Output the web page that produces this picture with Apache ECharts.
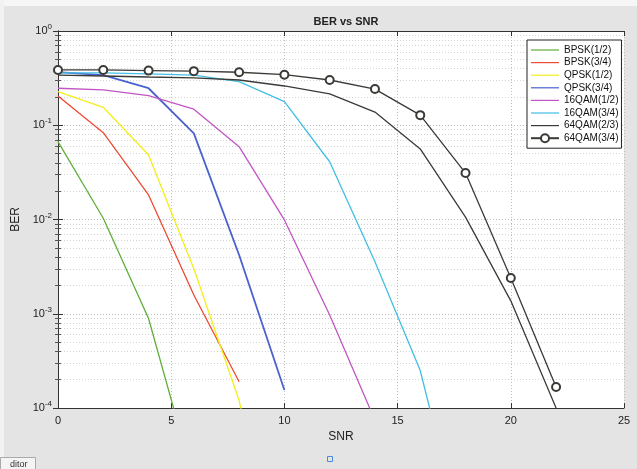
<!DOCTYPE html>
<html>
<head>
<meta charset="utf-8">
<script src="https://cdn.jsdelivr.net/npm/echarts@6/dist/echarts.min.js"></script>
<style>
  html, body { margin: 0; padding: 0; background: #e4e4e4; }
  #chart { width: 637px; height: 469px; }
</style>
</head>
<body>
<div id="chart"></div>
<script>
// SNR points (dB), every 2 dB
const snr = [0, 2, 4, 6, 8, 10, 12, 14, 16, 18, 20, 22]

// BER per scheme (index i pairs with snr[i])
const bpsk12 = [0.067, 0.0103, 8.9e-4, 1.7e-5]
const bpsk34 = [0.204, 0.0834, 0.0182, 0.00158, 1.9e-4]
const qpsk12 = [0.227, 0.155, 0.0483, 0.0030, 1.2e-4, 1e-6]
const qpsk34 = [0.366, 0.341, 0.247, 0.082, 0.0042, 1.55e-4]
const qam16_12 = [0.247, 0.237, 0.206, 0.148, 0.0593, 0.0099, 9.7e-4, 7.4e-5]
const qam16_34 = [0.36, 0.36, 0.35, 0.34, 0.29, 0.178, 0.041, 0.00356, 2.5e-4, 3e-6]
const qam64_23 = [0.341, 0.333, 0.325, 0.318, 0.302, 0.261, 0.215, 0.138, 0.056, 0.0106, 0.00137, 1.0e-4]
const qam64_34 = [0.386, 0.386, 0.380, 0.375, 0.365, 0.344, 0.302, 0.242, 0.128, 0.0311, 0.0024, 1.67e-4]

const legendNames = ['BPSK(1/2)', 'BPSK(3/4)', 'QPSK(1/2)', 'QPSK(3/4)', '16QAM(1/2)', '16QAM(3/4)', '64QAM(2/3)', '64QAM(3/4)']

const toPairs = (vals) => vals.map((v, i) => [snr[i], v])

const font = 'Liberation Sans, Arial, sans-serif'
const lineIcon = 'path://M0,0 L30,0 L30,1.3 L0,1.3 Z'

const lineSeries = (name, vals, color, extra = {}) => ({
  name,
  type: 'line',
  data: toPairs(vals),
  symbol: 'none',
  lineStyle: { width: 1.3, color },
  itemStyle: { color },
  clip: true,
  animation: false,
  ...extra,
})

const chart = echarts.init(document.getElementById('chart'))

chart.setOption({
  backgroundColor: '#e4e4e4',
  animation: false,
  textStyle: { fontFamily: font },
  title: {
    text: 'BER vs SNR',
    left: 341,
    textAlign: 'center',
    top: 11,
    textStyle: { fontSize: 11, fontWeight: 'bold', color: '#222', fontFamily: font },
  },
  grid: {
    left: 58,
    right: 13,
    top: 31,
    bottom: 61,
    show: true,
    backgroundColor: '#ffffff',
    borderWidth: 0,
  },
  legend: {
    orient: 'vertical',
    left: 527,
    top: 40,
    padding: [5, 3, 5, 3],
    itemWidth: 28,
    itemHeight: 10,
    itemGap: 2.6,
    backgroundColor: '#ffffff',
    borderColor: '#222',
    borderWidth: 1,
    borderRadius: 0,
    textStyle: { fontSize: 10, color: '#111', fontFamily: font },
    data: legendNames.map(n => n === '64QAM(3/4)' ? { name: n } : { name: n, icon: lineIcon }),
  },
  xAxis: [
    {
      type: 'value',
      min: 0,
      max: 25,
      interval: 5,
      name: 'SNR',
      nameLocation: 'middle',
      nameGap: 22,
      nameTextStyle: { fontSize: 12, color: '#222', fontFamily: font },
      axisLine: { show: true, onZero: false, lineStyle: { color: '#333', width: 1 } },
      axisTick: { show: true, inside: true, length: 5, lineStyle: { color: '#333' } },
      axisLabel: { fontSize: 11, color: '#222', margin: 7, fontFamily: font },
      splitLine: { show: true, lineStyle: { color: '#bdbdbd', type: [1, 2], width: 1 } },
    },
    {
      type: 'value',
      position: 'top',
      min: 0,
      max: 25,
      interval: 5,
      axisLine: { show: true, onZero: false, lineStyle: { color: '#333', width: 1 } },
      axisTick: { show: true, inside: true, length: 5, lineStyle: { color: '#333' } },
      axisLabel: { show: false },
      splitLine: { show: false },
    },
  ],
  yAxis: [
    {
      type: 'log',
      logBase: 10,
      min: 1e-4,
      max: 1,
      name: 'BER',
      nameLocation: 'middle',
      nameGap: 29,
      nameTextStyle: { fontSize: 12, color: '#222', fontFamily: font },
      axisLine: { show: true, lineStyle: { color: '#333', width: 1 } },
      axisTick: { show: true, inside: true, length: 5, lineStyle: { color: '#333' } },
      minorTick: { show: true, splitNumber: 9, length: 3, lineStyle: { color: '#555' } },
      minorSplitLine: { show: true, lineStyle: { color: '#d4d4d4', type: [1, 2], width: 1 } },
      axisLabel: {
        margin: 6,
        formatter: (v) => '{b|10}{s|' + Math.round(Math.log10(v)) + '}',
        rich: {
          b: { fontSize: 11, color: '#222', fontFamily: font },
          s: { fontSize: 8, color: '#222', fontFamily: font, padding: [0, 0, 8, 0] },
        },
      },
      splitLine: { show: true, lineStyle: { color: '#bdbdbd', type: [1, 2], width: 1 } },
    },
    {
      type: 'log',
      logBase: 10,
      min: 1e-4,
      max: 1,
      position: 'right',
      axisLine: { show: true, lineStyle: { color: '#333', width: 1 } },
      axisTick: { show: true, inside: true, length: 5, lineStyle: { color: '#333' } },
      minorTick: { show: true, splitNumber: 9, length: 3, lineStyle: { color: '#555' } },
      axisLabel: { show: false },
      splitLine: { show: false },
    },
  ],
  series: [
    lineSeries('BPSK(1/2)', bpsk12, '#5fae3a'),
    lineSeries('BPSK(3/4)', bpsk34, '#ec4a33'),
    lineSeries('QPSK(1/2)', qpsk12, '#f2ef1c'),
    lineSeries('QPSK(3/4)', qpsk34, '#4a62cf', { lineStyle: { width: 1.8, color: '#4a62cf' } }),
    lineSeries('16QAM(1/2)', qam16_12, '#c156c4'),
    lineSeries('16QAM(3/4)', qam16_34, '#43bfe4'),
    lineSeries('64QAM(2/3)', qam64_23, '#3a3a36'),
    lineSeries('64QAM(3/4)', qam64_34, '#3a3a36', {
      symbol: 'emptyCircle',
      symbolSize: 8,
      itemStyle: { color: '#3a3a36', borderWidth: 1.2 },
    }),
  ],
  graphic: [
    { type: 'rect', left: 0, top: 0, shape: { width: 637, height: 6 }, style: { fill: '#f6f6f6' }, silent: true },
    { type: 'rect', left: 0, top: 0, shape: { width: 4, height: 469 }, style: { fill: '#f2f2f2' }, silent: true },
    { type: 'rect', left: 0, top: 457, shape: { width: 35, height: 12 }, style: { fill: '#f4f4f4', stroke: '#aaa', lineWidth: 1 }, silent: true },
    { type: 'text', left: 10, top: 460, style: { text: 'ditor', fontSize: 9, fill: '#333', fontFamily: font }, silent: true },
    { type: 'rect', left: 325, top: 454, shape: { width: 5, height: 5 }, style: { fill: 'none', stroke: '#4a8ad8', lineWidth: 1 }, silent: true },
  ],
})
</script>
</body>
</html>
